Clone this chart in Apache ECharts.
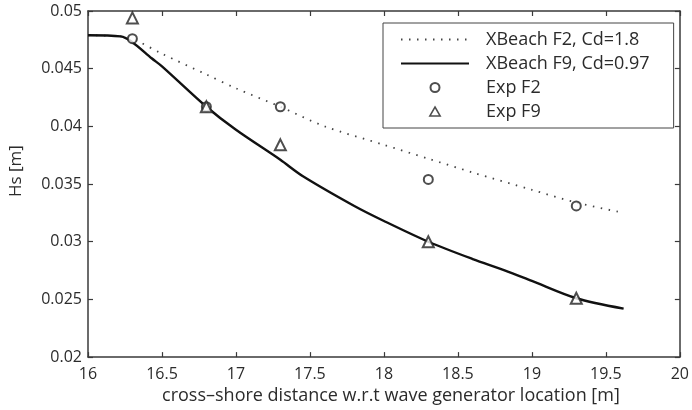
<!DOCTYPE html>
<html>
<head>
  <meta charset="UTF-8">
  <script src="https://cdn.jsdelivr.net/npm/echarts@6/dist/echarts.min.js"></script>
  <style>
    html, body { margin: 0; padding: 0; background: #fff; }
    #chart { width: 692px; height: 410px; }
  </style>
</head>
<body>
  <div id="chart"></div>
  <script>
    // XBeach model runs
    var f2Model = [
      [16.0, 0.0479], [16.22, 0.0478], [16.3, 0.0476], [16.5, 0.0463], [16.8, 0.0445],
      [17.0, 0.0433], [17.3, 0.0417], [17.6, 0.0400], [18.0, 0.0384], [18.3, 0.0372],
      [18.6, 0.0360], [19.0, 0.0345], [19.3, 0.0334], [19.62, 0.0325]
    ];
    var f9Model = [
      [16.0, 0.0479], [16.22, 0.0478], [16.3, 0.0473], [16.43, 0.0459], [16.5, 0.0452],
      [16.8, 0.0417], [17.0, 0.0397], [17.3, 0.0371], [17.45, 0.0357], [17.8, 0.0331],
      [18.0, 0.0318], [18.3, 0.0300], [18.6, 0.0285], [18.82, 0.0275], [19.0, 0.0266],
      [19.3, 0.0251], [19.62, 0.0242]
    ];
    // measurements
    var expF2 = [[16.3, 0.0476], [16.8, 0.0417], [17.3, 0.0417], [18.3, 0.0354], [19.3, 0.0331]];
    var expF9 = [[16.3, 0.0494], [16.8, 0.0417], [17.3, 0.0384], [18.3, 0.0300], [19.3, 0.0251]];

    var legendNames = ['XBeach F2, Cd=1.8', 'XBeach F9, Cd=0.97', 'Exp F2', 'Exp F9'];
    var xTitle = 'cross\u2013shore distance w.r.t wave generator location [m]';
    var yTitle = 'Hs [m]';

    var font = 'Open Sans';
    var ink = '#2b2b2b';

    var chart = echarts.init(document.getElementById('chart'));

    var axisBase = {
      axisLine: { show: true, onZero: false, lineStyle: { color: '#3a3a3a', width: 1.5 } },
      axisTick: { show: true, inside: true, length: 5, lineStyle: { color: '#3a3a3a', width: 1.2 } },
      splitLine: { show: false }
    };

    // hide the dot ECharts puts in the middle of a line legend icon
    var noDot = { color: 'transparent', borderColor: 'transparent' };

    chart.setOption({
      animation: false,
      backgroundColor: '#fff',
      textStyle: { fontFamily: font },
      grid: { left: 86, right: 8, top: 11, bottom: 52 },
      legend: {
        data: [
          { name: legendNames[0], itemStyle: noDot },
          { name: legendNames[1], itemStyle: noDot },
          { name: legendNames[2] },
          {
            name: legendNames[3],
            icon: 'path://M5,0L10,8.66L0,8.66Z',
            itemStyle: { color: '#fff', borderColor: '#222', borderWidth: 1.5 }
          }
        ],
        orient: 'vertical',
        left: 383,
        top: 23,
        padding: [7, 24, 7, 17],
        itemWidth: 68,
        itemHeight: 9,
        itemGap: 5,
        symbolKeepAspect: true,
        borderColor: '#444',
        borderWidth: 1,
        backgroundColor: '#fff',
        textStyle: { fontFamily: font, fontSize: 18, color: ink, lineHeight: 19, padding: [0, 0, 0, 12] }
      },
      xAxis: [
        Object.assign({
          type: 'value', min: 16, max: 20, interval: 0.5, position: 'bottom',
          name: xTitle, nameLocation: 'middle', nameGap: 29,
          nameTextStyle: { fontFamily: font, fontSize: 18, color: ink, padding: [0, 0, 0, 14] },
          axisLabel: { fontFamily: font, fontSize: 16, color: ink, margin: 9 }
        }, axisBase),
        Object.assign({
          type: 'value', min: 16, max: 20, interval: 0.5, position: 'top',
          axisLabel: { show: false }
        }, axisBase)
      ],
      yAxis: [
        Object.assign({
          type: 'value', min: 0.02, max: 0.05, interval: 0.005, position: 'left',
          name: yTitle, nameLocation: 'middle', nameGap: 63,
          nameTextStyle: { fontFamily: font, fontSize: 17, color: ink, padding: [0, 0, 0, 26] },
          axisLabel: { fontFamily: font, fontSize: 16, color: ink, margin: 6 }
        }, axisBase),
        Object.assign({
          type: 'value', min: 0.02, max: 0.05, interval: 0.005, position: 'right',
          axisLabel: { show: false }
        }, axisBase)
      ],
      series: [
        {
          name: legendNames[0], type: 'line', data: f2Model,
          symbol: 'none', smooth: 0.3, color: '#444',
          lineStyle: { color: '#444', width: 1.8, type: [1.5, 6.5] },
          z: 2
        },
        {
          name: legendNames[1], type: 'line', data: f9Model,
          symbol: 'none', smooth: 0.3, color: '#111',
          lineStyle: { color: '#111', width: 2.4 },
          z: 3
        },
        {
          name: legendNames[2], type: 'scatter', data: expF2,
          symbol: 'emptyCircle', symbolSize: 9,
          itemStyle: { color: '#222', borderColor: '#222', borderWidth: 1.8 },
          z: 4
        },
        {
          name: legendNames[3], type: 'scatter', data: expF9,
          symbol: 'emptyTriangle', symbolSize: 11,
          itemStyle: { color: '#222', borderColor: '#222', borderWidth: 1.6 },
          z: 4
        }
      ]
    });
  </script>
</body>
</html>
